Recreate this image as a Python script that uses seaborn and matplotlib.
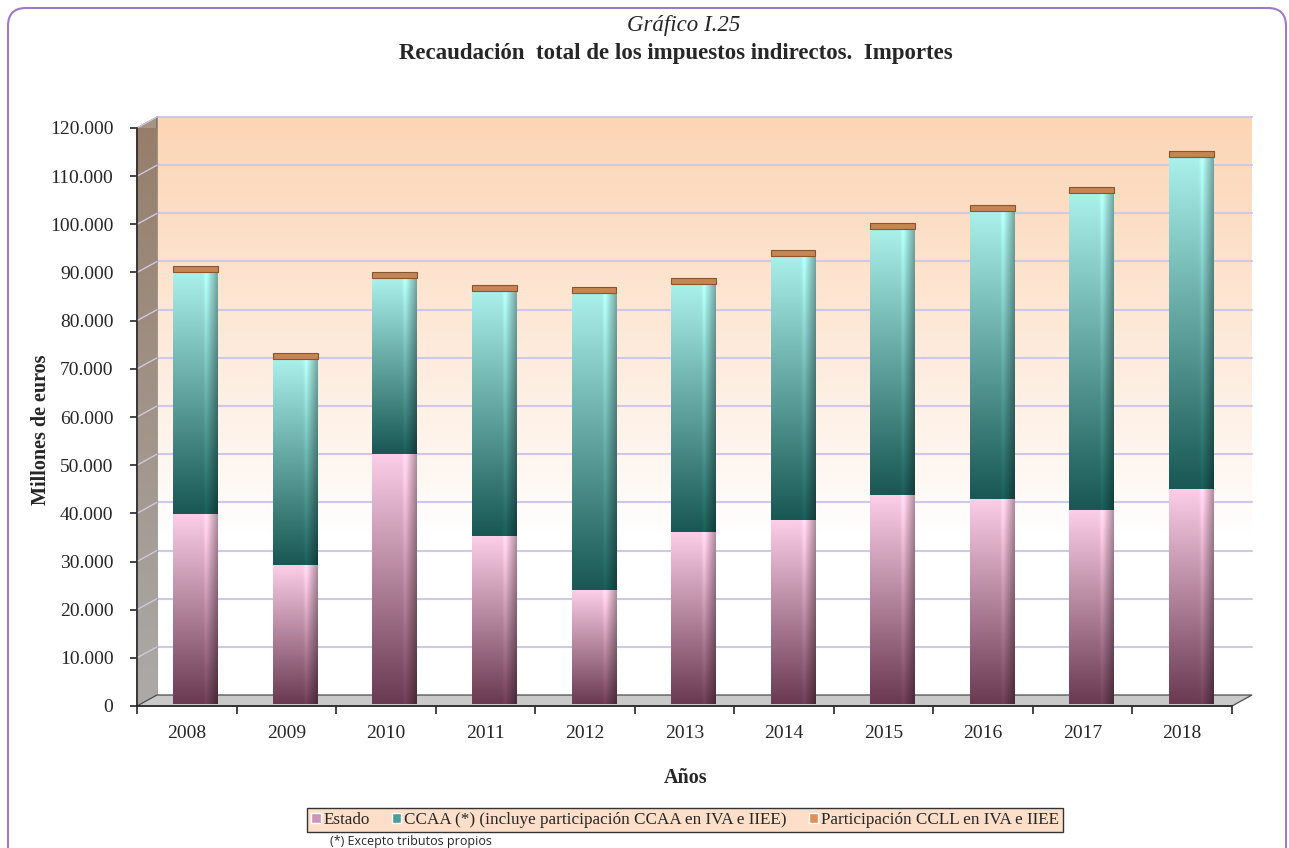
import numpy as np
import matplotlib
matplotlib.use("Agg")
import matplotlib.pyplot as plt
import matplotlib.transforms as mtransforms
from matplotlib.patches import Patch, FancyBboxPatch, Polygon
from matplotlib.ticker import FuncFormatter, MultipleLocator, FixedLocator
import seaborn as sns

# DATA (millones de euros)
years = ["2008", "2009", "2010", "2011", "2012", "2013", "2014", "2015", "2016", "2017", "2018"]
estado = [39500, 28800, 52000, 34800, 23600, 35800, 38100, 43300, 42600, 40200, 44700]
ccaa = [50100, 42800, 36400, 50900, 61700, 51400, 54900, 55300, 59700, 65800, 68800]
ccll = [1300, 1200, 1300, 1300, 1300, 1300, 1300, 1300, 1300, 1300, 1300]
series_names = ["Estado", "CCAA (*) (incluye participación CCAA en IVA e IIEE)",
                "Participación CCLL en IVA e IIEE"]

sns.set_style("ticks")
plt.rcParams["font.family"] = ["Liberation Serif", "DejaVu Serif"]

W, H = 1289, 848
fig = plt.figure(figsize=(W / 100, H / 100), dpi=100)

# background + rounded frame
bg = fig.add_axes([0, 0, 1, 1], zorder=-1)
bg.set_xlim(0, W)
bg.set_ylim(H, 0)
bg.axis("off")
bg.add_patch(FancyBboxPatch((8, 8), 1278, 870, boxstyle="round,pad=0,rounding_size=18",
                            fc="white", ec=(0.62, 0.48, 0.78), lw=1.5))

# front plane of the 3d chart
left, right, top, bottom = 137, 1232, 128, 706
ax = fig.add_axes([left / W, 1 - bottom / H, (right - left) / W, (bottom - top) / H])
ax.patch.set_visible(False)
ymax = 120000
x0, x1 = -0.5, len(years) - 0.5
dx = 20 / (right - left) * (x1 - x0)   # depth offset
dy = 11 / (bottom - top) * ymax

# back wall gradient
t = np.linspace(0, 1, 256)
peach = np.array([252, 213, 181]) / 255
white = np.array([1.0, 1.0, 1.0])
k = np.clip((t - 0.28) / 0.72, 0, 1)[:, None] ** 0.9
wall = (white * (1 - k) + peach * k)[:, None, :]
im = ax.imshow(wall, extent=[x0 + dx, x1 + dx, dy, ymax + dy], origin="lower",
               aspect="auto", interpolation="bilinear", zorder=0)
im.set_clip_on(False)

# gridlines on back wall and side wall
for v in range(10000, ymax + 1, 10000):
    ax.plot([x0 + dx, x1 + dx], [v + dy, v + dy], color=(0.82, 0.78, 0.90), lw=1.5,
            zorder=0.5, clip_on=False)

# left side wall
side = Polygon([[x0, 0], [x0 + dx, dy], [x0 + dx, ymax + dy], [x0, ymax]], closed=True,
               fc=(0.65, 0.58, 0.52), ec=(0.35, 0.35, 0.35), lw=0.8, zorder=0.6, clip_on=False)
ax.add_patch(side)
sw = np.array([172, 170, 168]) / 255
sw2 = np.array([150, 125, 105]) / 255
side_grad = (sw * (1 - t[:, None]) + sw2 * t[:, None])[:, None, :]
im2 = ax.imshow(side_grad, extent=[x0, x0 + dx, 0, ymax + dy], origin="lower",
                aspect="auto", interpolation="bilinear", zorder=0.65)
im2.set_clip_path(side)
im2.set_clip_box(None)
for v in range(10000, ymax + 1, 10000):
    ax.plot([x0, x0 + dx], [v, v + dy], color=(0.82, 0.78, 0.88), lw=1, zorder=0.7, clip_on=False)

# floor
floor = Polygon([[x0, 0], [x0 + dx, dy], [x1 + dx, dy], [x1, 0]], closed=True,
                fc=(0.79, 0.79, 0.79), ec=(0.3, 0.3, 0.3), lw=0.9, zorder=0.8, clip_on=False)
ax.add_patch(floor)

# bars
base2 = [a + b for a, b in zip(estado, ccaa)]
pink_lo, pink_hi = np.array([105, 58, 82]) / 255, np.array([252, 205, 230]) / 255
teal_lo, teal_hi = np.array([25, 88, 84]) / 255, np.array([170, 240, 234]) / 255
cap_col = (0.78, 0.52, 0.33)

bar_shift = mtransforms.ScaledTranslation(9 / 100, 2 / 100, fig.dpi_scale_trans)


def shade(patch, lo, hi, z):
    ny, nx = 64, 40
    tv = np.linspace(0, 1, ny)[:, None, None]
    s = np.linspace(0, 1, nx)[None, :, None]
    col = lo * (1 - tv) + hi * tv
    fac = 1 - 0.30 * np.clip((s - 0.80) / 0.20, 0, 1) + 0.10 * np.exp(-((s - 0.74) / 0.04) ** 2)
    arr = np.clip(col * fac, 0, 1)
    x, y, w, h = patch.get_x(), patch.get_y(), patch.get_width(), patch.get_height()
    img = ax.imshow(arr, extent=[x, x + w, y, y + h], origin="lower", aspect="auto",
                    interpolation="bilinear", zorder=z)
    img.set_transform(ax.transData + bar_shift)
    img.set_clip_path(patch)


n = len(ax.patches)
sns.barplot(x=years, y=estado, color=pink_hi, width=0.45, saturation=1, ax=ax, zorder=1.5,
            linewidth=0)
p_estado = ax.patches[n:]
n = len(ax.patches)
sns.barplot(x=years, y=ccaa, bottom=estado, color=teal_hi, width=0.45, saturation=1, ax=ax,
            zorder=1.5, linewidth=0)
p_ccaa = ax.patches[n:]
n = len(ax.patches)
sns.barplot(x=years, y=ccll, bottom=base2, color=cap_col, width=0.45, saturation=1, ax=ax,
            zorder=2.5, edgecolor=(0.55, 0.33, 0.18), linewidth=0.8)
p_ccll = ax.patches[n:]

for p in p_estado + p_ccaa + p_ccll:
    p.set_transform(ax.transData + bar_shift)
for p in p_estado:
    shade(p, pink_lo, pink_hi, 2)
for p in p_ccaa:
    shade(p, teal_lo, teal_hi, 2)

ax.set_xlim(x0, x1)
ax.set_ylim(0, ymax)

# axes styling
for s in ["top", "right"]:
    ax.spines[s].set_visible(False)
ax.spines["left"].set_linewidth(1.2)
ax.spines["bottom"].set_linewidth(1.2)
ax.yaxis.set_major_locator(MultipleLocator(10000))
ax.yaxis.set_major_formatter(FuncFormatter(lambda v, pos: f"{v:,.0f}".replace(",", ".")))
ax.set_xticks(range(len(years)))
ax.set_xticklabels(years)
ax.xaxis.set_minor_locator(FixedLocator(np.arange(x0, x1 + 0.01, 1)))
ax.tick_params(axis="x", which="major", length=0, pad=14, labelsize=14)
ax.tick_params(axis="x", which="minor", length=6, width=1.2, direction="out")
ax.tick_params(axis="y", length=5, width=1.2, direction="out", pad=12, labelsize=14)
ax.set_xlabel("")
ax.set_ylabel("")

# texts
fig.text(684 / W, 1 - 25 / H, "Gráfico I.25", ha="center", va="center", fontsize=16.5, style="italic")
fig.text(676 / W, 1 - 53 / H, "Recaudación  total de los impuestos indirectos.  Importes",
         ha="center", va="center", fontsize=16.5, weight="bold")
fig.text(41 / W, 1 - 430 / H, "Millones de euros", rotation=90, ha="center", va="center",
         fontsize=14.5, weight="bold")
fig.text(686 / W, 1 - 778 / H, "Años", ha="center", va="center", fontsize=14.5, weight="bold")

handles = [Patch(fc=(0.80, 0.58, 0.72)), Patch(fc=(0.30, 0.62, 0.60)), Patch(fc=(0.88, 0.56, 0.36))]
fig.legend(handles, series_names, loc="center", bbox_to_anchor=(685 / W, 1 - 820 / H), ncol=3,
           frameon=True, fancybox=False, edgecolor="#333333", facecolor=(0.99, 0.87, 0.79),
           framealpha=1, handlelength=0.55, handleheight=0.55, handletextpad=0.15,
           columnspacing=1.3, borderpad=0.25, fontsize=12.3)
fig.text(330 / W, 1 - 842 / H, "(*) Excepto tributos propios", ha="left", va="center",
         fontsize=9, family=["Open Sans", "DejaVu Sans"])

fig.savefig("out.png", dpi=100)
